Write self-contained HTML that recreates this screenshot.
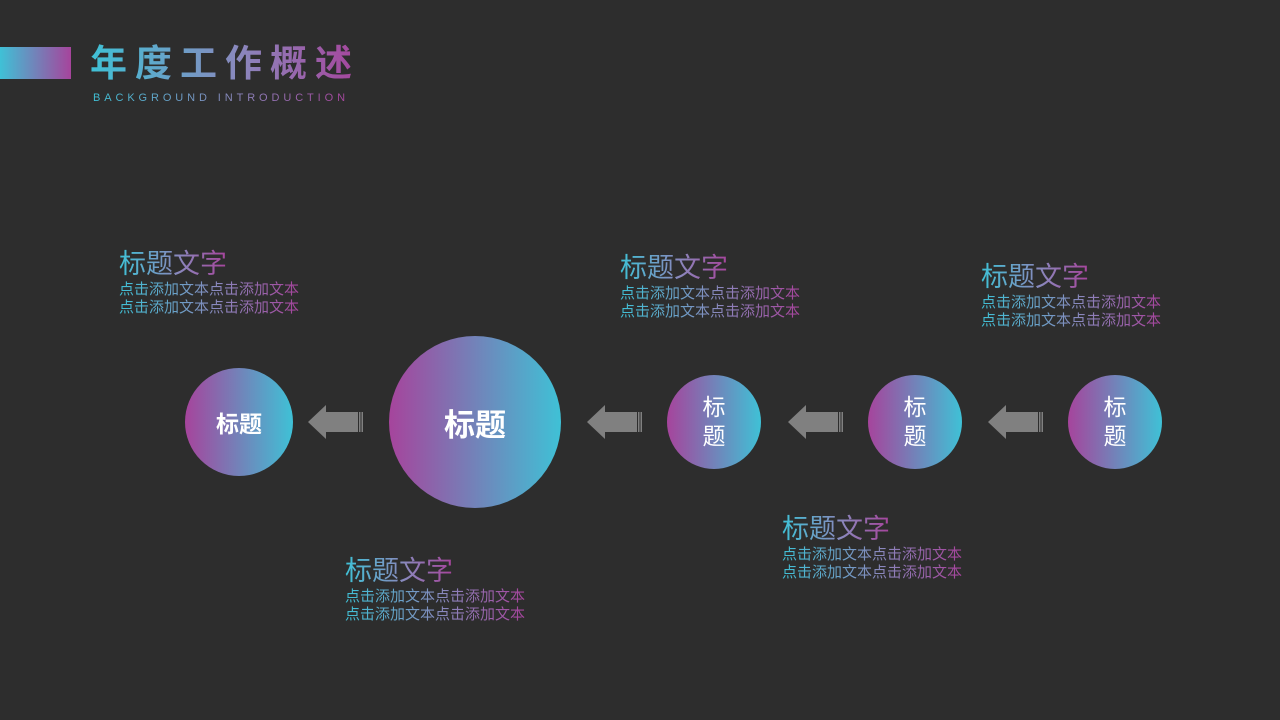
<!DOCTYPE html>
<html><head><meta charset="utf-8"><style>
body{margin:0;width:1280px;height:720px;background:#2d2d2d;position:relative;overflow:hidden;font-family:"Liberation Sans","Noto Sans CJK SC",sans-serif}
.g{background:linear-gradient(90deg,#3fc1d6,#8a88bd 55%,#a6449c);-webkit-background-clip:text;background-clip:text;color:transparent}
.abs{position:absolute}
.blk{position:absolute;white-space:nowrap}
.blk .t{font-size:27px;line-height:30px;display:inline-block;margin-bottom:2px}
.blk .s{font-size:15px;line-height:18px;display:block;width:180px}
.c{position:absolute;border-radius:50%;background:linear-gradient(90deg,#a6449c,#3fc1d6);color:#fff;display:flex;align-items:center;justify-content:center;text-align:center}
</style></head><body>
<div class="abs" style="left:0;top:47px;width:71px;height:32px;background:linear-gradient(90deg,#3fc1d6,#a6449c)"></div>
<div class="abs g" style="left:90px;top:42px;font-size:37px;font-weight:bold;letter-spacing:8px;line-height:44px">年度工作概述</div>
<div class="abs g" style="left:93px;top:92px;font-size:11px;letter-spacing:3.9px;line-height:13px">BACKGROUND INTRODUCTION</div>

<div class="blk" style="left:119px;top:249px"><span class="t g">标题文字</span><span class="s g">点击添加文本点击添加文本</span><span class="s g">点击添加文本点击添加文本</span></div>
<div class="blk" style="left:620px;top:253px"><span class="t g">标题文字</span><span class="s g">点击添加文本点击添加文本</span><span class="s g">点击添加文本点击添加文本</span></div>
<div class="blk" style="left:981px;top:262px"><span class="t g">标题文字</span><span class="s g">点击添加文本点击添加文本</span><span class="s g">点击添加文本点击添加文本</span></div>
<div class="blk" style="left:782px;top:514px"><span class="t g">标题文字</span><span class="s g">点击添加文本点击添加文本</span><span class="s g">点击添加文本点击添加文本</span></div>
<div class="blk" style="left:345px;top:556px"><span class="t g">标题文字</span><span class="s g">点击添加文本点击添加文本</span><span class="s g">点击添加文本点击添加文本</span></div>

<div class="c" style="left:185px;top:368px;width:108px;height:108px;font-size:23px;font-weight:bold">标题</div>
<div class="c" style="left:389px;top:336px;width:172px;height:172px;font-size:31px;font-weight:bold">标题</div>
<div class="c" style="left:667px;top:375px;width:94px;height:94px;font-size:23px;line-height:29px">标<br>题</div>
<div class="c" style="left:868px;top:375px;width:94px;height:94px;font-size:23px;line-height:29px">标<br>题</div>
<div class="c" style="left:1068px;top:375px;width:94px;height:94px;font-size:23px;line-height:29px">标<br>题</div>

<svg class="abs" style="left:0;top:0" width="1280" height="720">
<defs><g id="ar" fill="#808080"><polygon points="0,0 18,-17 18,-10 50,-10 50,10 18,10 18,17"/><rect x="51" y="-10" width="1.5" height="20"/><rect x="53.5" y="-10" width="1.5" height="20"/></g></defs>
<use href="#ar" x="308" y="422"/>
<use href="#ar" x="587" y="422"/>
<use href="#ar" x="788" y="422"/>
<use href="#ar" x="988" y="422"/>
</svg>
</body></html>
